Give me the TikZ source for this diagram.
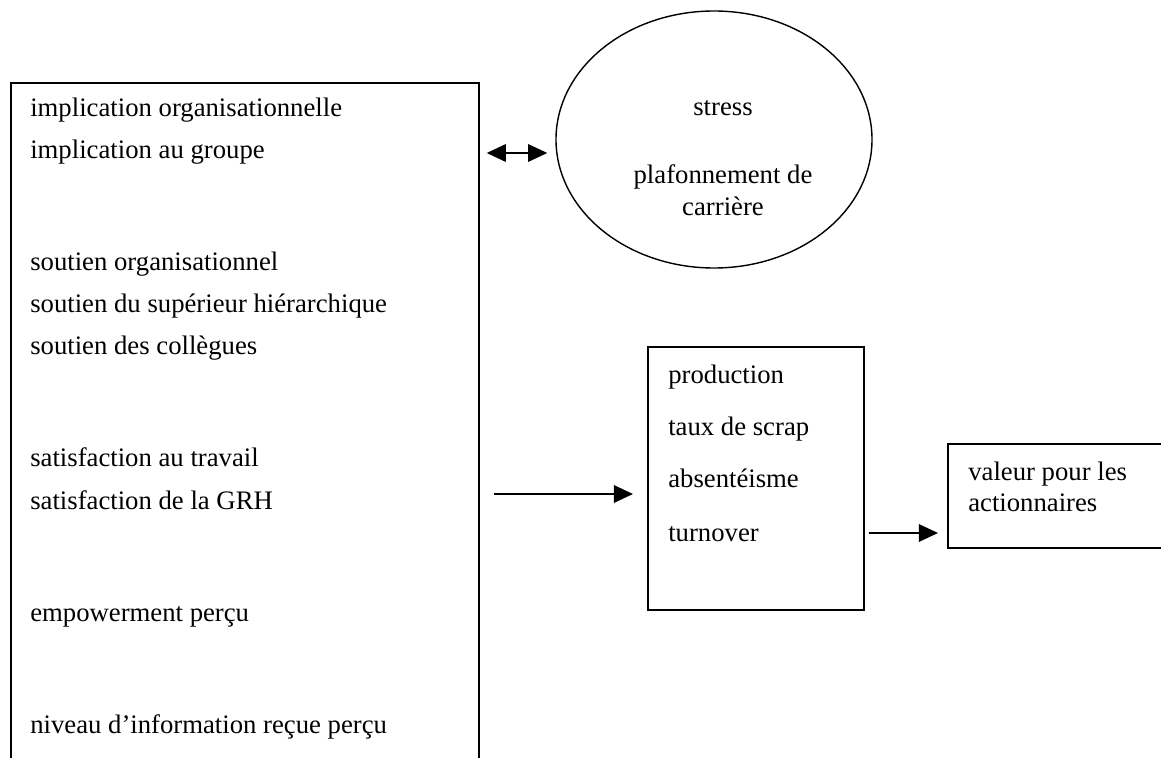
\documentclass[tikz,border=0pt]{standalone}
\usepackage{fontspec}
\setmainfont{Liberation Serif}
\usetikzlibrary{shapes.geometric}
\usetikzlibrary{arrows.meta}

\begin{document}
\begin{tikzpicture}[x=0.25mm, y=-0.25mm,
    box/.style={draw, line width=1.2pt, inner sep=0, anchor=north west},
    txt/.style={anchor=base west, inner sep=0, font=\fontsize{19pt}{22pt}\selectfont},
    ctxt/.style={anchor=base, inner sep=0, font=\fontsize{19pt}{22pt}\selectfont},
    arr/.style={line width=1.1pt, -{Triangle[length=4.8mm, width=4.4mm]}},
    dblarr/.style={line width=1.1pt, {Triangle[length=4.8mm, width=4.4mm]}-{Triangle[length=4.8mm, width=4.4mm]}}]
				    		\clip (0,0) rectangle (1161,758);
				    		% boxes
				    		\node[box, minimum width=117mm, minimum height=185mm] (lst) at (10,82) {};
				    		\node[box, minimum width=54mm, minimum height=65.75mm] (mesures) at (647,346) {};
				    		\node[box, minimum width=60mm, minimum height=26mm] (valeur) at (947,443) {};
				    		\node[draw, ellipse, line width=1pt, inner sep=0, minimum width=79mm, minimum height=64.25mm] (stressell) at (714,139.5) {};
				    		% left list
				    		\node[txt] (t1) at (30,117) {implication organisationnelle};
				    		\node[txt] (t2) at (30,159) {implication au groupe};
				    		\node[txt] (t3) at (30,271) {soutien organisationnel};
				    		\node[txt] (t4) at (30,313) {soutien du supérieur hiérarchique};
				    		\node[txt] (t5) at (30,355) {soutien des collègues};
				    		\node[txt] (t6) at (30,467) {satisfaction au travail};
				    		\node[txt] (t7) at (30,509) {satisfaction de la GRH};
				    		\node[txt] (t8) at (30,621) {empowerment perçu};
				    		\node[txt] (t9) at (30,733) {niveau d’information reçue perçu};
				    		% ellipse
				    		\node[ctxt] (e1) at (723,116) {stress};
				    		\node[ctxt] (e2) at (723,184) {plafonnement de};
				    		\node[ctxt] (e3) at (723,216) {carrière};
				    		% middle box
				    		\node[txt] (m1) at (668,384) {production};
				    		\node[txt] (m2) at (668,436) {taux de scrap};
				    		\node[txt] (m3) at (668,488) {absentéisme};
				    		\node[txt] (m4) at (668,541) {turnover};
				    		% right box
				    		\node[txt] (v1) at (968,481) {valeur pour les};
				    		\node[txt] (v2) at (968,511) {actionnaires};
				    		% arrows
				    		\draw[dblarr, shorten <=1.75mm, shorten >=2mm] (lst.east |- 0,153) -- (stressell.west |- 0,153);
				    		\draw[arr, shorten <=3.5mm, shorten >=3.5mm] (lst.east |- 0,494) -- (mesures.west |- 0,494);
				    		\draw[arr, shorten <=1mm, shorten >=2.25mm] (mesures.east |- 0,533) -- (valeur.west |- 0,533);
				    	\end{tikzpicture}
\end{document}
